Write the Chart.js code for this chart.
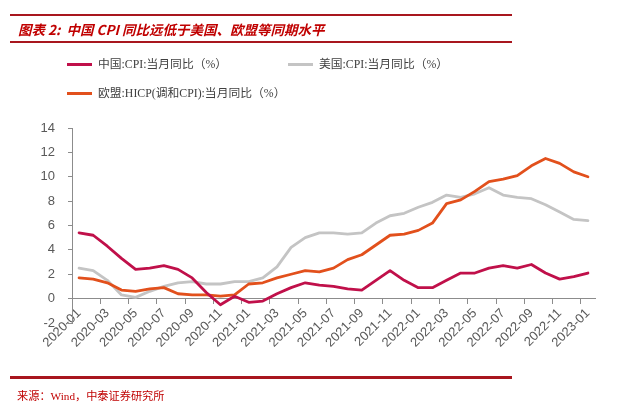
<!DOCTYPE html>
<html>
<head>
<meta charset="utf-8">
<script src="https://cdn.jsdelivr.net/npm/chart.js@4/dist/chart.umd.min.js"></script>
<style>
  html,body{margin:0;padding:0;background:#fff;}
  #wrap{position:relative;width:640px;height:409px;overflow:hidden;}
  #c{position:absolute;left:0;top:0;}
  .rule{position:absolute;left:10px;width:502px;height:2px;background:#A8161E;}
  #title{position:absolute;left:18px;top:19px;font-family:"Noto Sans CJK SC",sans-serif;font-weight:bold;font-style:italic;font-size:13.5px;color:#C00000;white-space:nowrap;line-height:20px;}
  .lg{position:absolute;font-family:"Liberation Serif","Noto Sans CJK SC",serif;font-size:11.8px;color:#404040;white-space:nowrap;line-height:16px;}
  .sw{position:absolute;width:25px;height:3px;}
  #src{position:absolute;left:17px;top:388px;font-family:"Liberation Serif","Noto Sans CJK SC",serif;font-size:11.2px;color:#C00000;white-space:nowrap;line-height:16px;}
</style>
</head>
<body>
<div id="wrap">
  <canvas id="c" width="640" height="409"></canvas>
  <div class="rule" style="top:14px"></div>
  <div id="title">图表 2:&nbsp; 中国 CPI 同比远低于美国、欧盟等同期水平</div>
  <div class="rule" style="top:41px"></div>
  <div id="legend"></div>
  <div class="rule" style="top:376px;height:3px"></div>
  <div id="src">来源：Wind，中泰证券研究所</div>
</div>
<script>
const months = ["2020-01","2020-02","2020-03","2020-04","2020-05","2020-06","2020-07","2020-08","2020-09","2020-10","2020-11","2020-12",
"2021-01","2021-02","2021-03","2021-04","2021-05","2021-06","2021-07","2021-08","2021-09","2021-10","2021-11","2021-12",
"2022-01","2022-02","2022-03","2022-04","2022-05","2022-06","2022-07","2022-08","2022-09","2022-10","2022-11","2022-12",
"2023-01"];
const chinaCPI = [5.4,5.2,4.3,3.3,2.4,2.5,2.7,2.4,1.7,0.5,-0.5,0.2,
-0.3,-0.2,0.4,0.9,1.3,1.1,1.0,0.8,0.7,1.5,2.3,1.5,
0.9,0.9,1.5,2.1,2.1,2.5,2.7,2.5,2.8,2.1,1.6,1.8,
2.1];
const usCPI = [2.5,2.3,1.5,0.3,0.1,0.6,1.0,1.3,1.4,1.2,1.2,1.4,
1.4,1.7,2.6,4.2,5.0,5.4,5.4,5.3,5.4,6.2,6.8,7.0,
7.5,7.9,8.5,8.3,8.6,9.1,8.5,8.3,8.2,7.7,7.1,6.5,
6.4];
const euHICP = [1.7,1.6,1.3,0.7,0.6,0.8,0.9,0.4,0.3,0.3,0.2,0.3,
1.2,1.3,1.7,2.0,2.3,2.2,2.5,3.2,3.6,4.4,5.2,5.3,
5.6,6.2,7.8,8.1,8.8,9.6,9.8,10.1,10.9,11.5,11.1,10.4,
10.0];
const seriesNames = ["中国:CPI:当月同比（%）","美国:CPI:当月同比（%）","欧盟:HICP(调和CPI):当月同比（%）"];
const seriesColors = ["#C0104A","#C4C4C4","#E2501C"];
const yMin = -2, yMax = 14, yStep = 2;

// HTML legend
const legendPos = [[67,64],[288,64],[67,93]];
const lg = document.getElementById('legend');
seriesNames.forEach((n,i)=>{
  const sw = document.createElement('div');
  sw.className='sw'; sw.style.left=legendPos[i][0]+'px'; sw.style.top=(legendPos[i][1]-1)+'px';
  sw.style.background=seriesColors[i]; lg.appendChild(sw);
  const t = document.createElement('div');
  t.className='lg'; t.textContent=n; t.style.left=(legendPos[i][0]+31)+'px'; t.style.top=(legendPos[i][1]-8)+'px';
  lg.appendChild(t);
});

const axisGrey = '#8C8C8C';
const tickFont = {family:'"Liberation Sans", Arial, sans-serif', size:13};
new Chart(document.getElementById('c'), {
  type:'line',
  data:{
    labels: months,
    datasets:[
      {label:seriesNames[0], data:chinaCPI, borderColor:seriesColors[0], order:0},
      {label:seriesNames[1], data:usCPI, borderColor:seriesColors[1], order:2},
      {label:seriesNames[2], data:euHICP, borderColor:seriesColors[2], order:1}
    ]
  },
  options:{
    responsive:false, animation:false, devicePixelRatio:1,
    layout:{padding:{left:0,right:45,top:128,bottom:86}},
    elements:{point:{radius:0}, line:{borderWidth:2.8, tension:0, borderCapStyle:'round', borderJoinStyle:'round'}},
    plugins:{legend:{display:false}, tooltip:{enabled:false}},
    scales:{
      x:{
        type:'category', offset:true, position:{y:0},
        grid:{offset:true, drawOnChartArea:false, drawTicks:true, tickLength:5,
              color:(ctx)=> (ctx.index % 2 === 0 ? axisGrey : 'rgba(0,0,0,0)')},
        border:{color:axisGrey, width:1},
        ticks:{autoSkip:false, minRotation:45, maxRotation:45, padding:2, color:'#595959', font:tickFont,
               callback:(v,i)=> (i % 2 === 0 ? months[i] : '')}
      },
      y:{
        min:yMin, max:yMax,
        afterFit:(s)=>{ s.width = 72; },
        grid:{drawOnChartArea:false, drawTicks:true, tickLength:4, color:axisGrey},
        border:{color:axisGrey, width:1},
        ticks:{stepSize:yStep, padding:13, color:'#595959', font:tickFont}
      }
    }
  }
});
</script>
</body>
</html>
